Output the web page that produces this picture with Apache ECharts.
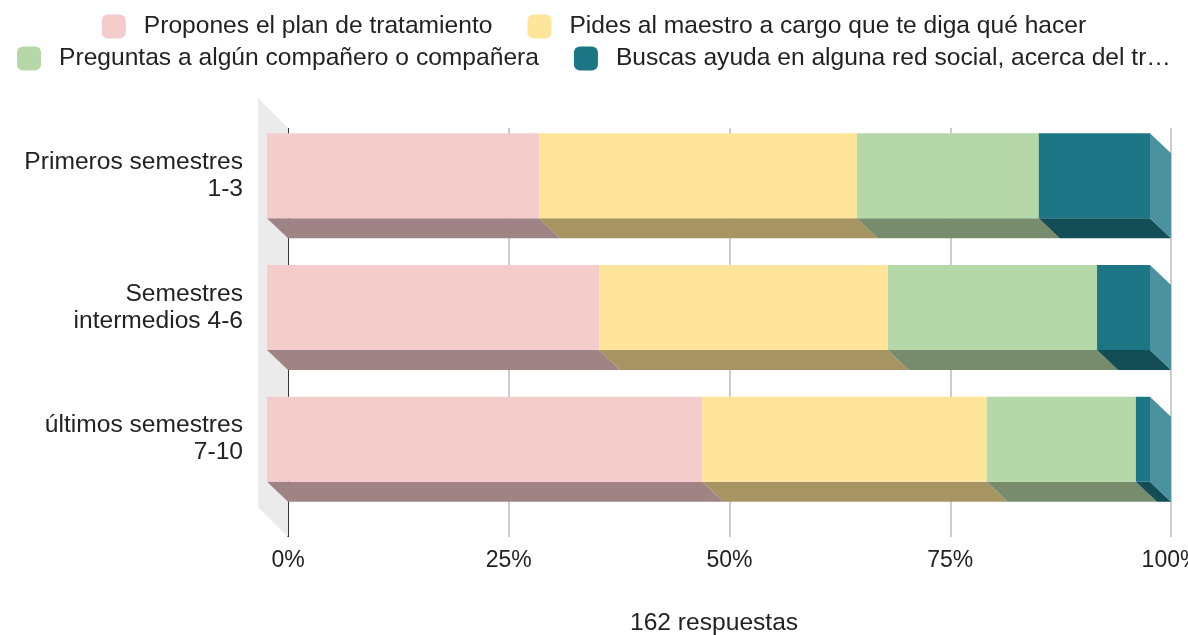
<!DOCTYPE html>
<html>
<head>
<meta charset="utf-8">
<script src="https://cdn.jsdelivr.net/npm/echarts@6/dist/echarts.min.js"></script>
<style>
  html, body { margin: 0; padding: 0; background: #fff; }
  #chart { width: 1188px; height: 635px; }
</style>
</head>
<body>
<div id="chart"></div>
<script>
const categories = ['Primeros semestres\n1-3', 'Semestres\nintermedios 4-6', 'últimos semestres\n7-10'];
const answerNames = [
  'Propones el plan de tratamiento',
  'Pides al maestro a cargo que te diga qué hacer',
  'Preguntas a algún compañero o compañera',
  'Buscas ayuda en alguna red social, acerca del tr…'
];
// percent of answers per row
const propones = [30.8, 37.6, 49.3];
const pides = [36.0, 32.7, 32.2];
const preguntas = [20.6, 23.7, 16.9];
const buscas = [12.6, 6.0, 1.6];
const xTicks = [0, 25, 50, 75, 100];

const frontColors = ['#F4CCCC', '#FFE599', '#B6D7A8', '#1D7685'];
const bottomColors = ['#A08485', '#A69463', '#778B6D', '#134D56'];
const sideColor = '#4A929E';
const depthX = 21, depthY = 20;
const font = 'Arial, "Liberation Sans", sans-serif';

const answerValues = [propones, pides, preguntas, buscas];

function buildStack(idx) {
  return categories.map((c, r) => {
    let start = 0;
    for (let k = 0; k < idx; k++) start += answerValues[k][r];
    return [start, start + answerValues[idx][r], r];
  });
}

function barRenderer(idx) {
  return function (params, api) {
    const s = api.value(0), e = api.value(1), r = api.value(2);
    const p0 = api.coord([s, r]);
    const p1 = api.coord([e, r]);
    const h = api.size([0, 1])[1] * 0.645;
    const top = p0[1] - h / 2, bot = p0[1] + h / 2;
    const children = [
      {
        type: 'polygon',
        shape: { points: [[p0[0], bot], [p1[0], bot], [p1[0] + depthX, bot + depthY], [p0[0] + depthX, bot + depthY]] },
        style: { fill: bottomColors[idx] }
      },
      {
        type: 'rect',
        shape: { x: p0[0], y: top, width: p1[0] - p0[0], height: h },
        style: { fill: frontColors[idx] }
      }
    ];
    if (idx === answerValues.length - 1) {
      children.push({
        type: 'polygon',
        shape: { points: [[p1[0], top], [p1[0] + depthX, top + depthY], [p1[0] + depthX, bot + depthY], [p1[0], bot]] },
        style: { fill: sideColor }
      });
    }
    return { type: 'group', children: children };
  };
}

const barSeries = answerNames.map((name, i) => ({
  name: name,
  type: 'custom',
  xAxisIndex: 1,
  yAxisIndex: 1,
  clip: false,
  z: 3,
  itemStyle: { color: frontColors[i] },
  encode: { x: [0, 1], y: 2 },
  data: buildStack(i),
  renderItem: barRenderer(i)
}));

const wallSeries = {
  type: 'custom',
  xAxisIndex: 0,
  yAxisIndex: 0,
  clip: false,
  silent: true,
  z: 1,
  data: [[0, 0]],
  renderItem: function (params, api) {
    const cs = params.coordSys;
    const d = 30;
    return {
      type: 'polygon',
      shape: { points: [[cs.x - d, cs.y - d], [cs.x, cs.y], [cs.x, cs.y + cs.height], [cs.x - d, cs.y + cs.height - d]] },
      style: { fill: '#EBEBEB' }
    };
  }
};

const legendCommon = {
  left: 'center',
  icon: 'roundRect',
  itemWidth: 24,
  itemHeight: 24,
  itemGap: 35,
  selectedMode: false,
  textStyle: { fontFamily: font, fontSize: 24.6, color: '#222', padding: [0, 0, 0, 13] }
};

const option = {
  animation: false,
  backgroundColor: '#fff',
  title: {
    text: '162 respuestas',
    left: 625,
    top: 606,
    textStyle: { fontFamily: font, fontSize: 24.6, fontWeight: 'normal', color: '#222' }
  },
  legend: [
    Object.assign({}, legendCommon, { top: 9, data: answerNames.slice(0, 2) }),
    Object.assign({}, legendCommon, { top: 41, data: answerNames.slice(2, 4) })
  ],
  grid: [
    { left: 288, right: 17, top: 128, bottom: 98, outerBoundsMode: 'none' },
    { left: 267, right: 38, top: 110, bottom: 130, outerBoundsMode: 'none' }
  ],
  xAxis: [
    {
      gridIndex: 0,
      type: 'value',
      min: xTicks[0],
      max: xTicks[xTicks.length - 1],
      interval: 25,
      axisLine: { show: false },
      axisTick: { show: false },
      splitLine: { show: true, lineStyle: { color: ['#333333', '#CCCCCC', '#CCCCCC', '#CCCCCC', '#CCCCCC'], width: 2 } },
      axisLabel: { margin: 12, fontFamily: font, fontSize: 23, color: '#222', formatter: '{value}%' }
    },
    { gridIndex: 1, type: 'value', min: 0, max: 100, show: false }
  ],
  yAxis: [
    { gridIndex: 0, type: 'value', min: 0, max: 1, show: false },
    {
      gridIndex: 1,
      type: 'category',
      inverse: true,
      data: categories,
      axisLine: { show: false },
      axisTick: { show: false },
      splitLine: { show: false },
      axisLabel: { margin: 24, fontFamily: font, fontSize: 24.6, lineHeight: 27, color: '#222', align: 'right' }
    }
  ],
  series: [wallSeries].concat(barSeries)
};

const chart = echarts.init(document.getElementById('chart'));
chart.setOption(option);
</script>
</body>
</html>
